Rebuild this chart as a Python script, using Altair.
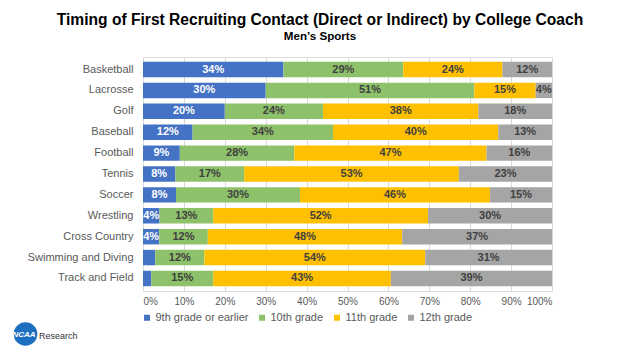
import altair as alt
import pandas as pd

sports = ["Basketball", "Lacrosse", "Golf", "Baseball", "Football", "Tennis",
          "Soccer", "Wrestling", "Cross Country", "Swimming and Diving", "Track and Field"]
grades = ["9th grade or earlier", "10th grade", "11th grade", "12th grade"]
grade9 = [34, 30, 20, 12, 9, 8, 8, 4, 4, 3, 2]
grade10 = [29, 51, 24, 34, 28, 17, 30, 13, 12, 12, 15]
grade11 = [24, 15, 38, 40, 47, 53, 46, 52, 48, 54, 43]
grade12 = [12, 4, 18, 13, 16, 23, 15, 30, 37, 31, 39]
colors = ["#4472C4", "#8DC16A", "#FFC000", "#A5A5A5"]
label_colors = ["#FFFFFF", "#404040", "#404040", "#404040"]
x_ticks = [i / 10 for i in range(11)]

rows = []
for series_i, (g, vals) in enumerate(zip(grades, [grade9, grade10, grade11, grade12])):
    for s, v in zip(sports, vals):
        rows.append({"sport": s, "grade": g, "value": v, "order": series_i,
                     "label": f"{v}%" if v >= 4 else "",
                     "lc": label_colors[series_i]})
df = pd.DataFrame(rows)

FONT = "Liberation Sans"

base = alt.Chart(df).transform_stack(
    stack="value", groupby=["sport"], as_=["x0", "x1"], offset="normalize",
    sort=[alt.SortField("order", order="ascending")]
).transform_calculate(mid="(datum.x0 + datum.x1) / 2")

yenc = alt.Y("sport:N", sort=sports,
             scale=alt.Scale(paddingInner=0.26, paddingOuter=0.23),
             axis=alt.Axis(title=None, labelFontSize=11, labelColor="#595959", labelFont=FONT,
                           ticks=False, domain=True, domainColor="#D9D9D9", labelPadding=10))

bars = base.mark_bar(stroke=None).encode(
    x=alt.X("x0:Q", scale=alt.Scale(domain=[0, 1], nice=False),
            axis=alt.Axis(title=None, format=".0%", values=x_ticks, labelFontSize=10,
                          labelColor="#595959", labelFont=FONT, grid=True, gridColor="#D9D9D9",
                          domain=False, ticks=False, labelPadding=5)),
    x2="x1:Q",
    y=yenc,
    color=alt.Color("grade:N", sort=grades,
                    scale=alt.Scale(domain=grades, range=colors),
                    legend=alt.Legend(title=None, orient="none", direction="horizontal",
                                      legendX=-1.5, legendY=255, padding=0,
                                      symbolType="square", symbolSize=36, symbolStrokeWidth=0,
                                      labelFontSize=11, labelColor="#595959", labelFont=FONT,
                                      labelOffset=3, columnPadding=8, columns=4)),
)

texts = base.mark_text(fontSize=11, fontWeight="bold", font=FONT).encode(
    x="mid:Q",
    y=alt.Y("sport:N", sort=sports),
    text="label:N",
    color=alt.Color("lc:N", scale=None, legend=None),
)

logo_df = pd.DataFrame({"a": [0]})
logo_circle = alt.Chart(logo_df).mark_point(shape="circle", filled=True, size=560,
                                            color="#1F6FC0", opacity=1).encode(
    x=alt.value(25.5 - 143), y=alt.value(334 - 57))
logo_ncaa = alt.Chart(logo_df).mark_text(text="NCAA", fontSize=8, fontWeight="bold",
                                         fontStyle="italic", color="white", font=FONT).encode(
    x=alt.value(24 - 143), y=alt.value(335 - 57))
logo_res = alt.Chart(logo_df).mark_text(text="Research", fontSize=9, color="#333333",
                                        align="left", font=FONT).encode(
    x=alt.value(39 - 143), y=alt.value(336 - 57))

chart = alt.layer(bars, texts, logo_circle, logo_ncaa, logo_res).properties(
    width=409, height=234,
    autosize=alt.AutoSizeParams(type="none"),
    padding={"left": 143, "top": 57, "right": 84, "bottom": 63},
    title=alt.TitleParams(
        text="Timing of First Recruiting Contact (Direct or Indirect) by College Coach",
        subtitle="Men\u2019s Sports",
        font=FONT, fontSize=15.6, fontWeight="bold", color="#000000",
        subtitleFont=FONT, subtitleFontSize=11.6,
        subtitleFontWeight="bold", subtitleColor="#000000", subtitlePadding=3,
        anchor="middle", frame="group", dx=-27.5, offset=14),
).configure_view(stroke=None).configure(background="white")

chart.save("out.html", embed_options={"renderer": "svg", "actions": False})
